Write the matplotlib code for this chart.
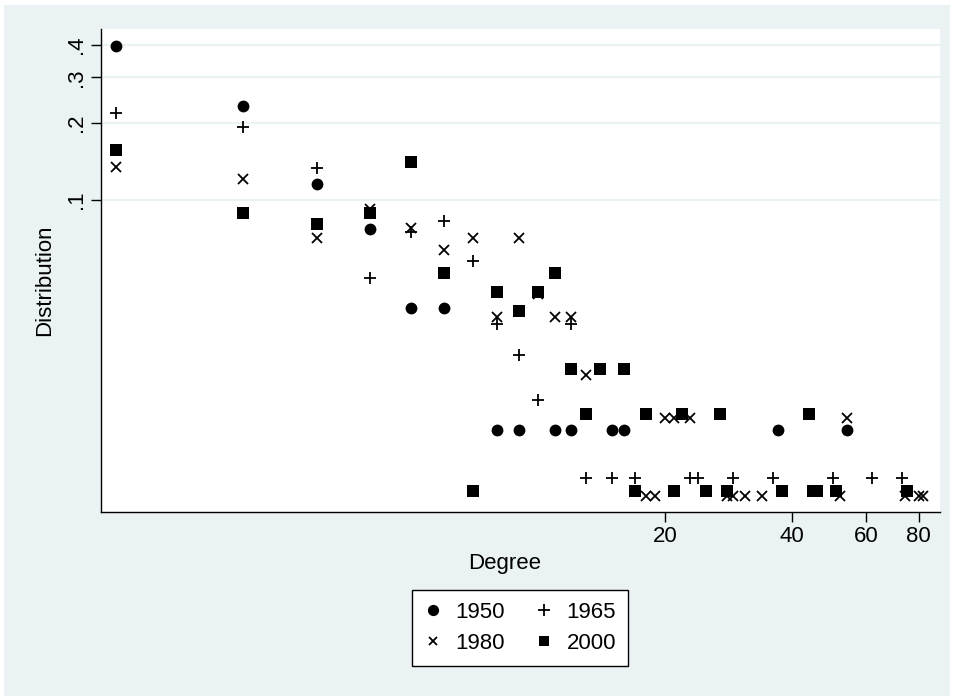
import numpy as np
import matplotlib
matplotlib.use("Agg")
import matplotlib.pyplot as plt
from matplotlib.patches import Rectangle
from matplotlib.ticker import FixedLocator, FixedFormatter, NullLocator

plt.rcParams['font.family'] = ['Liberation Sans', 'DejaVu Sans']

# degree distribution by year (share of nodes with a given degree)
deg_1950 = [1, 2, 3, 4, 5, 6, 8, 9, 11, 12, 15, 16, 37, 54]
dist_1950 = [.397, .231, .115, .077, .038, .038, .0128, .0128, .0128, .0128,
             .0128, .0128, .0128, .0128]

deg_1965 = [1, 2, 3, 4, 5, 6, 7, 8, 9, 10, 12, 13, 15, 17, 23, 24, 29, 36, 50, 62, 73]
dist_1965 = [.217, .192, .133, .050, .075, .083, .058, .033, .025, .0167, .033,
             .0083, .0083, .0083, .0083, .0083, .0083, .0083, .0083, .0083, .0083]

deg_1980 = [1, 2, 3, 4, 5, 6, 7, 8, 9, 10, 11, 12, 13, 18, 19, 20, 21, 23,
            28, 29, 31, 34, 52, 54, 74, 80, 82]
dist_1980 = [.135, .121, .071, .092, .078, .064, .071, .035, .071, .043, .035,
             .035, .021, .0071, .0071, .0142, .0142, .0142, .0071, .0071, .0071,
             .0071, .0071, .0142, .0071, .0071, .0071]

deg_2000 = [1, 2, 3, 4, 5, 6, 7, 8, 9, 10, 11, 12, 13, 14, 16, 17, 18, 21, 22,
            25, 27, 28, 38, 44, 45, 46, 51, 75]
dist_2000 = [.156, .089, .081, .089, .141, .052, .0074, .044, .037, .044, .052,
             .022, .0148, .022, .022, .0074, .0148, .0074, .0148, .0074, .0148,
             .0074, .0074, .0148, .0074, .0074, .0074, .0074]

x_ticks = [20, 40, 60, 80]
y_ticks = [.1, .2, .3, .4]
y_labels = ['.1', '.2', '.3', '.4']

W, H = 954, 700
bg = '#EAF2F3'
fs = 16

fig = plt.figure(figsize=(W / 100, H / 100), dpi=100, facecolor='white')
fig.patches.append(Rectangle((4 / W, 4 / H), (W - 8) / W, (H - 9) / H,
                             transform=fig.transFigure, facecolor=bg,
                             edgecolor='none', zorder=-5))

ax = fig.add_axes([101 / W, 1 - 512 / H, (940 - 101) / W, (512 - 29) / H])
ax.set_facecolor('white')
ax.set_xscale('log')
ax.set_yscale('log')
ax.set_xlim(0.921, 89.8)
ax.set_ylim(0.00614, 0.462)

for s in ['top', 'right']:
    ax.spines[s].set_visible(False)
for s in ['left', 'bottom']:
    ax.spines[s].set_linewidth(1.0)
    ax.spines[s].set_color('black')

for yv in y_ticks:
    ax.axhline(yv, color=bg, lw=1.6, zorder=0)

ax.xaxis.set_major_locator(FixedLocator(x_ticks))
ax.xaxis.set_major_formatter(FixedFormatter([str(v) for v in x_ticks]))
ax.xaxis.set_minor_locator(NullLocator())
ax.yaxis.set_major_locator(FixedLocator(y_ticks))
ax.yaxis.set_major_formatter(FixedFormatter(y_labels))
ax.yaxis.set_minor_locator(NullLocator())
ax.tick_params(axis='both', length=7.2, width=1.0, labelsize=fs, pad=3)
for lab in ax.get_yticklabels():
    lab.set_rotation(90)
    lab.set_va('center')

kw = dict(ls='none', color='black', zorder=3)
ax.plot(deg_1950, dist_1950, marker='o', ms=8.5, mew=0, label='1950', **kw)
ax.plot(deg_1965, dist_1965, marker='+', ms=9, mew=1.3, label='1965', **kw)
ax.plot(deg_1980, dist_1980, marker='x', ms=6.5, mew=1.3, label='1980', **kw)
ax.plot(deg_2000, dist_2000, marker='s', ms=8.3, mew=0, label='2000', **kw)

fig.text(505 / W, 1 - 563 / H, 'Degree', ha='center', va='center', fontsize=fs)
fig.text(45 / W, 1 - 280 / H, 'Distribution', ha='center', va='center',
         rotation=90, fontsize=fs)

handles, labels = ax.get_legend_handles_labels()
order = [0, 2, 1, 3]
leg = fig.legend([handles[i] for i in order], [labels[i] for i in order],
                 loc='center', bbox_to_anchor=(520 / W, 1 - 628 / H), ncol=2,
                 fontsize=fs, frameon=True, fancybox=False, edgecolor='black',
                 facecolor='white', framealpha=1,
                 handlelength=0.8, handletextpad=0.6, columnspacing=1.4,
                 borderpad=0.55, labelspacing=0.45, markerscale=0.95)
leg.get_frame().set_linewidth(1.0)

fig.savefig('out.png', dpi=100, facecolor=fig.get_facecolor())
